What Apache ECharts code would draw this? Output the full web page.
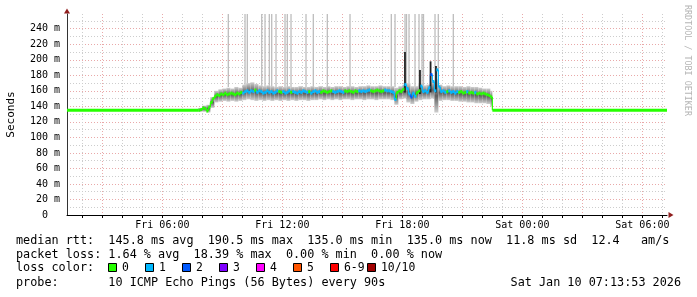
<!DOCTYPE html>
<html><head><meta charset="utf-8">
<script src="https://cdn.jsdelivr.net/npm/echarts@6/dist/echarts.min.js"></script>
<style>html,body{margin:0;padding:0;background:#fff}#c{width:697px;height:297px}</style>
</head><body><div id="c"></div>
<script>
// ---- time frame (hours since Fri 00:00) ----
const START_H = 1 + 13 / 60 + 53 / 3600;   // Fri 01:13:53
const END_H = START_H + 30;                 // Sat 07:13:53
const xLabelHours = [6, 12, 18, 24, 30];
const yLabelValues = [0, 20, 40, 60, 80, 100, 120, 140, 160, 180, 200, 220, 240];
const yMinorValues = [10, 20, 30, 40, 50, 60, 70, 80, 90, 100, 110, 120, 130, 140, 150, 160, 170, 180, 190, 200, 210, 220, 230, 240, 250];

// ---- median rtt (ms) ----
const baselineRtt = 135;
const activeStartH = 7.8, activeStepH = 0.1, activeEndH = 22.5;
const medianRtt = [
  135,136,138,137,134,139,145,150,153,155,
  154,156,155,157,155,156,157,156,155,157,
  156,158,157,159,160,158,160,159,161,158,
  160,159,157,158,160,158,159,157,158,160,
  159,158,159,157,158,160,158,159,158,157,
  159,158,160,159,158,159,157,159,160,158,
  159,158,160,159,158,159,160,159,158,159,
  160,159,158,160,159,160,159,158,160,159,
  160,159,160,159,160,161,160,159,160,161,
  160,159,160,161,160,160,159,158,149,158,
  160,159,162,168,163,156,152,157,153,158,
  160,166,159,160,158,164,181,172,160,187,
  165,159,160,158,159,160,158,159,157,159,
  158,159,157,158,159,157,158,157,158,156,
  157,156,157,156,155,154,152
];
// pings lost out of 10 per sample
const lossCount = [
  0,0,0,0,0,0,0,0,0,0,
  0,0,0,0,0,0,0,0,0,0,
  0,0,1,1,1,1,1,1,0,1,
  1,1,1,1,1,1,1,1,1,1,
  0,0,1,1,1,1,0,1,1,1,
  1,1,1,1,1,0,1,1,1,1,
  1,0,0,0,0,0,0,1,1,1,
  1,1,1,0,0,0,0,0,0,0,
  1,1,1,1,1,1,0,0,0,0,
  0,0,0,1,1,1,1,1,1,0,
  0,0,0,1,1,1,2,1,1,0,
  0,1,1,1,1,1,2,1,1,1,
  1,1,1,1,0,1,1,1,1,1,
  0,0,0,0,1,0,0,0,1,0,
  0,0,0,0,0,0,0
];

// ---- smoke (spread of the 10 pings, ms) ----
const smokeStepH = 0.2;
const smokeLow = [
  133,133,132,138,145,146,147,146,147,146,
  147,148,149,148,147,148,147,148,147,148,
  147,148,147,148,147,148,148,147,148,148,
  149,148,149,148,149,148,149,149,148,149,
  149,148,149,149,148,149,149,149,148,142,
  149,150,145,143,146,148,149,149,150,132,
  147,148,148,147,147,146,146,145,145,144,
  144,144,143,140
];
const smokeHigh = [
  138,141,142,152,160,162,163,164,163,165,
  164,168,170,171,169,167,166,167,166,165,
  166,165,166,165,165,166,165,165,166,165,
  166,165,166,165,166,166,165,166,166,165,
  166,166,167,166,166,167,166,166,166,164,
  166,168,170,166,166,170,167,168,172,175,
  168,166,167,166,166,166,165,166,165,165,
  164,163,163,160
];

// ---- single far outliers (light) and dense high pings (dark) ----
const spikeHours = [9.297,10.132,10.247,10.967,11.132,11.347,11.467,11.682,12.132,12.247,12.432,13.182,13.547,14.247,15.382,17.447,17.632,18.132,18.207,18.332,18.632,18.832,18.982,19.057,19.632,19.797,20.547];
const spikeLow = 165, spikeHigh = 259;
const darkSpikeHours = [18.13, 18.88, 19.41, 19.68];
const darkSpikeLow = [158, 156, 158, 158];
const darkSpikeHigh = [210, 187, 198, 192];

// ---- legend texts ----
const medianStats = ['145.8 ms avg', '190.5 ms max', '135.0 ms min', '135.0 ms now', '11.8 ms sd', '12.4   am/s'];
const lossStats = ['1.64 % avg', '18.39 % max', '0.00 % min', '0.00 % now'];
const lossLabels = ['0', '1', '2', '3', '4', '5', '6-9', '10/10'];
const lossColors = ['#26ff00', '#00b8ff', '#0059ff', '#7e00ff', '#ff00ff', '#ff5500', '#ff0000', '#a10000'];
const probeText = '10 ICMP Echo Pings (56 Bytes) every 90s';
const stampText = 'Sat Jan 10 07:13:53 2026';

// ---- build series data ----
function lossIdx(n) { return n <= 5 ? n : (n < 10 ? 6 : 7); }
const medianData = [];
medianData.push([START_H, activeStartH, baselineRtt, baselineRtt, 0]);
let prev = baselineRtt;
medianRtt.forEach((v, i) => {
  const t0 = activeStartH + i * activeStepH;
  medianData.push([t0, t0 + activeStepH, v, prev, lossIdx(lossCount[i])]);
  prev = v;
});
medianData.push([activeEndH, END_H, baselineRtt, prev, 0]);

const smokeData = smokeLow.map((lo, j) => {
  const t0 = activeStartH + j * smokeStepH;
  return [t0, Math.min(t0 + smokeStepH, activeEndH), lo, smokeHigh[j]];
});
const spikeData = spikeHours.map(h => [h, spikeLow, spikeHigh]);
const darkData = darkSpikeHours.map((h, i) => [h, darkSpikeLow[i], darkSpikeHigh[i]]);

const MONO = 'DejaVu Sans Mono';
const GRAY = '#cdcdcd', RED = '#e9a9a9';
const G = { left: 67, right: 30, top: 14, bottom: 82, containLabel: false, outerBoundsMode: 'none' };

function pad2(n) { return (n < 10 ? '0' : '') + n; }

const chart = echarts.init(document.getElementById('c'), null, { renderer: 'canvas' });

const graphics = [];
const L = 16;
const lines = [
  { y: 241, text: 'median rtt:  ' + medianStats.join('  ') },
  { y: 255, text: 'packet loss: ' + lossStats.join('  ') },
  { y: 268, text: 'loss color:' },
  { y: 283, text: 'probe:       ' + probeText }
];
lines.forEach(l => graphics.push({ type: 'text', x: L, y: l.y, style: { text: l.text, font: '11.8px ' + MONO, fill: '#000', textVerticalAlign: 'middle' } }));
graphics.push({ type: 'text', x: 681, y: 283, style: { text: stampText, font: '11.8px ' + MONO, fill: '#000', textAlign: 'right', textVerticalAlign: 'middle' } });
lossLabels.forEach((lab, k) => {
  const x = 108 + 37 * k;
  graphics.push({ type: 'rect', shape: { x: x + 0.5, y: 263.5, width: 8, height: 8 }, style: { fill: lossColors[k], stroke: '#000', lineWidth: 1 } });
  graphics.push({ type: 'text', x: x + 14, y: 268, style: { text: lab, font: '11.4px ' + MONO, fill: '#000', textVerticalAlign: 'middle' } });
});
graphics.push({ type: 'text', x: 687, y: 5, rotation: -Math.PI / 2, style: { text: 'RRDTOOL / TOBI OETIKER', font: '8.4px ' + MONO, fill: '#b5b5b5', textVerticalAlign: 'middle' } });
// axis arrows
graphics.push({ type: 'polygon', shape: { points: [[67, 8.5], [64, 13.5], [70, 13.5]] }, style: { fill: '#901e1e' } });
graphics.push({ type: 'polygon', shape: { points: [[673.5, 215], [668.5, 212], [668.5, 218]] }, style: { fill: '#901e1e' } });

const hourTicks = [];
for (let h = Math.ceil(START_H); h <= Math.floor(END_H); h++) hourTicks.push(h);

function vline(api, width, color) {
  const a = api.coord([api.value(0), api.value(1)]);
  const b = api.coord([api.value(0), api.value(2)]);
  return { type: 'line', shape: { x1: a[0], y1: a[1], x2: b[0], y2: b[1] }, style: { stroke: color, lineWidth: width } };
}

chart.setOption({
  animation: false,
  backgroundColor: '#fff',
  grid: G,
  xAxis: {
    type: 'value', min: START_H, max: END_H,
    axisLine: { show: true, lineStyle: { color: '#000', width: 1 } },
    axisTick: { show: true, customValues: hourTicks, length: 3, lineStyle: { color: '#000' } },
    axisLabel: {
      customValues: xLabelHours, margin: 5, fontFamily: MONO, fontSize: 10, color: '#000',
      formatter: v => (v < 24 ? 'Fri ' : 'Sat ') + pad2(Math.round(v) % 24) + ':00'
    },
    splitLine: { show: true, lineStyle: { color: [GRAY, RED, GRAY], type: [1, 2], width: 1 } }
  },
  yAxis: {
    type: 'value', min: 0, max: 259,
    name: 'Seconds', nameLocation: 'middle', nameGap: 50, nameRotate: 90,
    nameTextStyle: { fontFamily: MONO, fontSize: 11, color: '#000' },
    axisLine: { show: true, lineStyle: { color: '#333', width: 1 } },
    axisTick: { show: false, customValues: yMinorValues },
    axisLabel: {
      customValues: yLabelValues, margin: 7, fontFamily: MONO, fontSize: 10, color: '#000',
      formatter: v => v === 0 ? '0  ' : v + ' m'
    },
    splitLine: { show: true, lineStyle: { color: [GRAY, RED], type: [1, 2], width: 1 } }
  },
  graphic: graphics,
  series: [
    {
      type: 'custom', name: 'outliers', clip: true, data: spikeData,
      encode: { x: 0, y: [1, 2] },
      renderItem: (p, api) => vline(api, 1.3, '#bdbdbd')
    },
    {
      type: 'custom', name: 'smoke', clip: true, data: smokeData,
      encode: { x: [0, 1], y: [2, 3] },
      renderItem: (p, api) => {
        const a = api.coord([api.value(0), api.value(3)]);
        const b = api.coord([api.value(1), api.value(2)]);
        return {
          type: 'rect', shape: { x: a[0], y: a[1], width: b[0] - a[0], height: b[1] - a[1] },
          style: { fill: { type: 'linear', x: 0, y: 0, x2: 0, y2: 1, colorStops: [
            { offset: 0, color: '#cfcfcf' }, { offset: 0.5, color: '#5e5e5e' }, { offset: 1, color: '#cfcfcf' }] } }
        };
      }
    },
    {
      type: 'custom', name: 'median steps', clip: true, data: medianData,
      encode: { x: [0, 1], y: [2, 3] },
      renderItem: (p, api) => {
        const a = api.coord([api.value(0), api.value(3)]);
        const b = api.coord([api.value(0), api.value(2)]);
        return { type: 'line', shape: { x1: a[0], y1: a[1], x2: b[0], y2: b[1] }, style: { stroke: lossColors[api.value(4)], lineWidth: 1.2 } };
      }
    },
    {
      type: 'custom', name: 'dense', clip: true, data: darkData,
      encode: { x: 0, y: [1, 2] },
      renderItem: (p, api) => vline(api, 1.8, '#222')
    },
    {
      type: 'custom', name: 'median', clip: true, data: medianData,
      encode: { x: [0, 1], y: [2, 3] },
      renderItem: (p, api) => {
        const a = api.coord([api.value(0), api.value(2)]);
        const b = api.coord([api.value(1), api.value(2)]);
        return { type: 'line', shape: { x1: a[0], y1: a[1], x2: b[0], y2: b[1] }, style: { stroke: lossColors[api.value(4)], lineWidth: 3 } };
      }
    }
  ]
});
</script></body></html>
